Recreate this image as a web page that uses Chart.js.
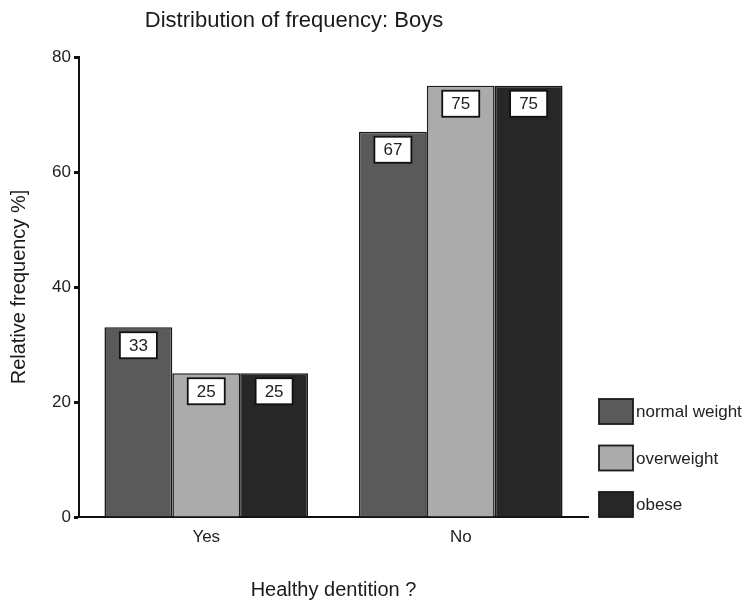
<!DOCTYPE html>
<html>
<head>
<meta charset="utf-8">
<script src="https://cdn.jsdelivr.net/npm/chart.js@4.4.1/dist/chart.umd.min.js"></script>
<style>
  html, body { margin: 0; padding: 0; background: #ffffff; }
  #wrap { width: 746px; height: 604px; }
</style>
</head>
<body>
<div id="wrap"><canvas id="c" width="746" height="604"></canvas></div>
<script>
const categories = ['Yes', 'No'];
const seriesNames = ['normal weight', 'overweight', 'obese'];
const normalWeight = [33, 67];
const overweight = [25, 75];
const obese = [25, 75];
const yTicks = [0, 20, 40, 60, 80];
const seriesColors = ['#5a5a5a', '#ababab', '#272727'];

const FONT = "'Liberation Sans', Arial, Helvetica, sans-serif";

const valueLabels = {
  id: 'valueLabels',
  afterDatasetsDraw(chart) {
    const ctx = chart.ctx;
    ctx.save();
    chart.data.datasets.forEach((ds, di) => {
      const meta = chart.getDatasetMeta(di);
      meta.data.forEach((bar, i) => {
        const w = 37, h = 26;
        const x = bar.x - w / 2;
        const y = bar.y + 5;
        ctx.fillStyle = '#ffffff';
        ctx.fillRect(x, y, w, h);
        ctx.lineWidth = 1.8;
        ctx.strokeStyle = '#111111';
        ctx.strokeRect(x, y, w, h);
        ctx.fillStyle = '#222222';
        ctx.font = '17px ' + FONT;
        ctx.textAlign = 'center';
        ctx.textBaseline = 'middle';
        ctx.fillText(String(ds.data[i]), bar.x, y + h / 2 + 1);
      });
    });
    ctx.restore();
  }
};

const sideLegend = {
  id: 'sideLegend',
  afterDraw(chart) {
    const ctx = chart.ctx;
    const area = chart.chartArea;
    const n = chart.data.datasets.length;
    const bw = 34, bh = 25, step = 46.5;
    ctx.save();
    chart.data.datasets.forEach((ds, i) => {
      const x = area.right + 11;
      const y = area.bottom - bh - (n - 1 - i) * step;
      ctx.fillStyle = ds.backgroundColor;
      ctx.fillRect(x, y, bw, bh);
      ctx.lineWidth = 1.8;
      ctx.strokeStyle = '#1a1a1a';
      ctx.strokeRect(x, y, bw, bh);
      ctx.fillStyle = '#222222';
      ctx.font = '17px ' + FONT;
      ctx.textAlign = 'left';
      ctx.textBaseline = 'middle';
      ctx.fillText(ds.label, x + bw + 3, y + bh / 2 + 1);
    });
    ctx.restore();
  }
};

new Chart(document.getElementById('c'), {
  type: 'bar',
  data: {
    labels: categories,
    datasets: [
      { label: seriesNames[0], data: normalWeight, backgroundColor: seriesColors[0] },
      { label: seriesNames[1], data: overweight, backgroundColor: seriesColors[1] },
      { label: seriesNames[2], data: obese, backgroundColor: seriesColors[2] }
    ].map(d => Object.assign(d, {
      borderColor: '#1a1a1a',
      borderWidth: 1.6,
      borderSkipped: 'bottom',
      categoryPercentage: 0.8,
      barPercentage: 1.0
    }))
  },
  options: {
    responsive: false,
    animation: false,
    devicePixelRatio: 1,
    layout: { padding: { left: 0, right: 158, top: 0, bottom: 0 } },
    plugins: {
      legend: { display: false },
      tooltip: { enabled: false },
      title: {
        display: true,
        text: 'Distribution of frequency: Boys',
        color: '#1a1a1a',
        font: { family: FONT, size: 22, weight: 'normal' },
        padding: { top: 8, bottom: 22.6 }
      }
    },
    scales: {
      x: {
        grid: { display: false, drawTicks: false },
        border: { display: true, color: '#111111', width: 2 },
        ticks: { color: '#222222', font: { family: FONT, size: 17 }, padding: 10 },
        title: {
          display: true,
          text: 'Healthy dentition ?',
          color: '#1a1a1a',
          font: { family: FONT, size: 20 },
          padding: { top: 0, bottom: 2 }
        },
        afterFit(scale) { scale.height = 87; }
      },
      y: {
        min: 0,
        max: 80,
        afterBuildTicks(scale) { scale.ticks = yTicks.map(v => ({ value: v })); },
        grid: { display: true, drawOnChartArea: false, drawTicks: true, tickLength: 5, tickWidth: 3, tickColor: '#111111' },
        border: { display: true, color: '#111111', width: 2 },
        ticks: { color: '#222222', font: { family: FONT, size: 17 }, padding: 3 },
        title: {
          display: true,
          text: 'Relative frequency %]',
          color: '#1a1a1a',
          font: { family: FONT, size: 20 },
          padding: { top: 7, bottom: 0 }
        },
        afterFit(scale) { scale.width = 79; }
      }
    }
  },
  plugins: [valueLabels, sideLegend]
});
</script>
</body>
</html>
